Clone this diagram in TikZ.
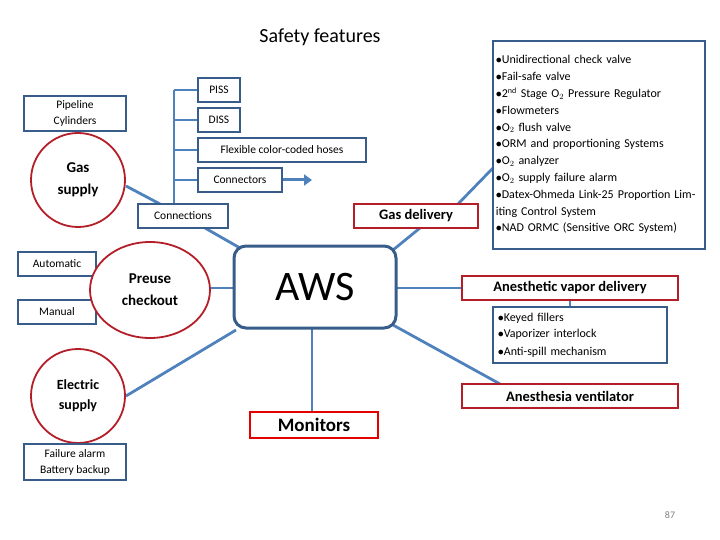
\documentclass[tikz,border=0pt]{standalone}
\usepackage{fontspec}
\setmainfont{Carlito}
\usetikzlibrary{arrows.meta,shapes.geometric}
\definecolor{lineblue}{RGB}{79,129,189}
\definecolor{boxblue}{RGB}{56,93,138}
\definecolor{darkred}{RGB}{180,30,40}
\definecolor{brightred}{RGB}{230,0,0}
\tikzset{
  box/.style={draw=boxblue, line width=1.6pt, fill=white, inner sep=2pt, align=center, font=\fontsize{11.5}{15}\selectfont},
  redbox/.style={draw=darkred, line width=1.6pt, fill=white, inner sep=2pt, align=center, font=\fontsize{14.5}{16}\selectfont\bfseries},
  redcircle/.style={draw=darkred, line width=1.8pt, fill=white, circle, minimum size=94pt, align=center, font=\fontsize{15}{22}\selectfont\bfseries},
  link/.style={draw=lineblue, line width=2.8pt}
}
\begin{document}
\begin{tikzpicture}[x=1pt, y=-1pt]
\useasboundingbox (0,0) rectangle (720,540);

% lines first
\coordinate (tr) at (174,90);
\coordinate (bt) at (174,205);
\draw[link] (tr)--(bt);
\foreach \yy in {90,120,150,180} \draw[link] (174,\yy)--(198,\yy);
\draw[link] (126,186)--(160,204);
\draw[link] (205,228)--(240,248);
\draw[link] (393,250)--(420,228);
\draw[link] (458,204)--(493,168);
\draw[link] (396,288)--(462,288);
\draw[link] (570,300)--(570,306);
\draw[link] (393,325)--(500,384);
\draw[link] (312,328)--(312,412);
\draw[link] (126,396)--(236,330);
\draw[link] (210,288)--(233,288);

\node[font=\fontsize{20}{22}\selectfont] (title) at (320,37) {Safety features};

\node[box, minimum width=102pt, minimum height=35pt, font=\fontsize{11.5}{16}\selectfont] (pipe) at (75,113.5) {Pipeline\\Cylinders};
\node[redcircle] (gas) at (78,180) {Gas\\supply};

\node[box, minimum width=42pt, minimum height=24pt] (piss) at (219,90) {PISS};
\node[box, minimum width=42pt, minimum height=24pt] (diss) at (219,120) {DISS};
\node[box, minimum width=168pt, minimum height=24pt] (hoses) at (282,150) {Flexible color-coded hoses};
\node[box, minimum width=84pt, minimum height=24pt] (conn) at (240,180) {Connectors};
\coordinate (tip) at (312,180);
\draw[lineblue, line width=3pt, -{Triangle[length=8pt,width=11pt]}] (conn.east) -- (tip);
\node[box, minimum width=90pt, minimum height=24pt] (connections) at (183,216) {Connections};

\node[draw=boxblue, line width=3pt, rounded corners=12pt, fill=white, minimum width=162pt, minimum height=82pt, font=\fontsize{42}{44}\selectfont] (aws) at (315,287) {AWS};

\node[redbox, minimum width=124pt, minimum height=24pt] (gasdel) at (416,216) {Gas delivery};
\node[box, anchor=north west, text width=206pt, align=left, inner sep=3pt, minimum height=208pt, font=\fontsize{12}{16.8}\selectfont\raggedright] (list) at (492,40) {%
$\bullet$Unidirectional check valve\\
$\bullet$Fail-safe valve\\
$\bullet$2\textsuperscript{nd} Stage O$_2$ Pressure Regulator\\
$\bullet$Flowmeters\\
$\bullet$O$_2$ flush valve\\
$\bullet$ORM and proportioning Systems\\
$\bullet$O$_2$ analyzer\\
$\bullet$O$_2$ supply failure alarm\\
$\bullet$Datex-Ohmeda Link-25 Proportion Limiting Control System\\
$\bullet$NAD ORMC (Sensitive ORC System)};

\node[box, minimum width=78pt, minimum height=24pt] (auto) at (57,264) {Automatic};
\node[box, minimum width=78pt, minimum height=24pt] (manual) at (57,312) {Manual};
\node[draw=darkred, line width=1.8pt, fill=white, ellipse, minimum width=120pt, minimum height=96pt, align=center, font=\fontsize{15}{22}\selectfont\bfseries, inner sep=0pt] (preuse) at (150,290) {Preuse\\checkout};

\node[redbox, minimum width=216pt, minimum height=24pt] (vapor) at (570,288) {Anesthetic vapor delivery};
\node[box, anchor=north west, minimum width=174pt, minimum height=56pt, text width=164pt, align=left, font=\fontsize{12}{17}\selectfont] (keyed) at (492,306) {%
$\bullet$Keyed fillers\\
$\bullet$Vaporizer interlock\\
$\bullet$Anti-spill mechanism};
\node[redbox, minimum width=216pt, minimum height=24pt] (vent) at (570,396) {Anesthesia ventilator};

\node[draw=brightred, line width=2.5pt, fill=white, minimum width=128pt, minimum height=26pt, font=\fontsize{19}{21}\selectfont\bfseries] (mon) at (314,425) {Monitors};

\node[redcircle, font=\fontsize{14}{20}\selectfont\bfseries] (elec) at (78,396) {Electric\\supply};
\node[box, minimum width=102pt, minimum height=36pt, font=\fontsize{11.5}{16}\selectfont] (fail) at (75,462) {Failure alarm\\Battery backup};

\node[text=gray, font=\fontsize{10}{12}\selectfont] (page) at (670,515) {87};
\end{tikzpicture}
\end{document}
